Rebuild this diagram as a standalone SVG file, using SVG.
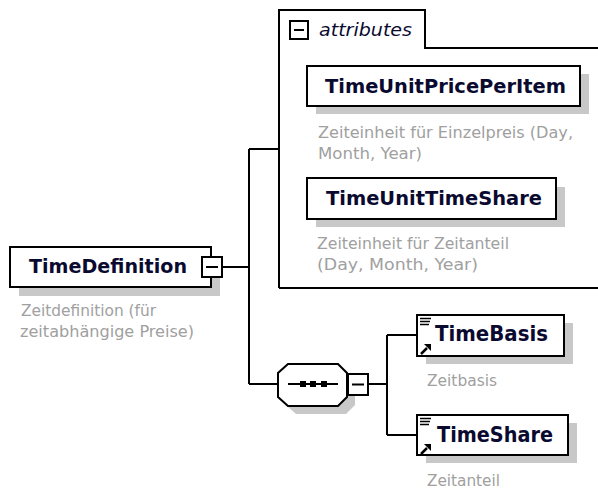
<svg xmlns="http://www.w3.org/2000/svg" width="598" height="491" viewBox="0 0 598 491">
  <style>
    .box{fill:#fff;stroke:#000;stroke-width:2}
    .shadow{fill:#c8c8c8}
    .name{font-family:"DejaVu Sans",Verdana,sans-serif;font-weight:bold;font-size:20px;fill:#0a0a30}
    .desc{font-family:"DejaVu Sans",Verdana,sans-serif;font-size:16px;fill:#a0a0a0}
    .conn{stroke:#000;stroke-width:2;fill:none}
    .ico{stroke:#000;stroke-width:1.5;fill:none}
    .attr{font-family:"DejaVu Sans",Verdana,sans-serif;font-style:italic;font-size:18px;fill:#0a0a30}
  </style>
  <defs>
    <g id="refIcon">
      <path class="ico" d="M0,0.5H11M0,3.5H10M0,6.5H9"/>
      <path d="M1,36 L7,30" stroke="#000" stroke-width="2.5"/>
      <polygon points="11,26 11,33 4,26" fill="#000"/>
    </g>
  </defs>
  <rect width="598" height="491" fill="#fff"/>

  <g id="connectors">
    <path class="conn" d="M222,267H249M249,149V384M249,149H279M249,384H278"/>
    <path class="conn" d="M368,384H387M387,335V435M387,335H417M387,435H417"/>
  </g>

  <g id="attributes">
    <path class="conn" d="M279,288V10H425V48H600M279,288H600"/>
    <rect class="box" x="290" y="21" width="18" height="18"/>
    <path class="conn" d="M294,30H304"/>
    <text class="attr" x="319" y="36" textLength="93" lengthAdjust="spacingAndGlyphs">attributes</text>
  </g>

  <g id="TimeDefinition">
    <rect class="shadow" x="19" y="256" width="201" height="40"/>
    <rect class="box" x="10" y="247" width="201" height="40"/>
    <text class="name" x="29" y="273" textLength="158" lengthAdjust="spacingAndGlyphs">TimeDefinition</text>
    <rect class="box" x="202" y="257" width="20" height="20"/>
    <path class="conn" d="M206,267H218"/>
    <text class="desc" x="21" y="316" textLength="135" lengthAdjust="spacingAndGlyphs">Zeitdefinition (für</text>
    <text class="desc" x="20" y="337" textLength="174" lengthAdjust="spacingAndGlyphs">zeitabhängige Preise)</text>
  </g>

  <g id="TimeUnitPricePerItem">
    <rect class="shadow" x="316" y="74" width="273" height="40"/>
    <rect class="box" x="307" y="66" width="273" height="40"/>
    <text class="name" x="325" y="93" textLength="241" lengthAdjust="spacingAndGlyphs">TimeUnitPricePerItem</text>
    <text class="desc" x="318" y="138" textLength="255" lengthAdjust="spacingAndGlyphs">Zeiteinheit für Einzelpreis (Day,</text>
    <text class="desc" x="318" y="159" textLength="104" lengthAdjust="spacingAndGlyphs">Month, Year)</text>
  </g>

  <g id="TimeUnitTimeShare">
    <rect class="shadow" x="316" y="187" width="249" height="40"/>
    <rect class="box" x="307" y="178" width="249" height="41"/>
    <text class="name" x="326" y="205" textLength="216" lengthAdjust="spacingAndGlyphs">TimeUnitTimeShare</text>
    <text class="desc" x="317" y="249" textLength="192" lengthAdjust="spacingAndGlyphs">Zeiteinheit für Zeitanteil</text>
    <text class="desc" x="317" y="270" textLength="161" lengthAdjust="spacingAndGlyphs">(Day, Month, Year)</text>
  </g>

  <g id="sequence">
    <polygon class="shadow" points="296,372 346,372 355,381 355,405 346,414 296,414 286,405 286,381"/>
    <polygon class="box" points="288,364 338,364 347,373 347,397 338,406 288,406 278,397 278,373"/>
    <path class="conn" d="M288,384H338"/>
    <rect x="300" y="381" width="6" height="6" fill="#000"/>
    <rect x="310" y="381" width="6" height="6" fill="#000"/>
    <rect x="321" y="381" width="6" height="6" fill="#000"/>
    <rect class="box" x="348" y="374" width="20" height="21"/>
    <path class="conn" d="M352,384.5H364"/>
  </g>

  <g id="TimeBasis">
    <rect class="shadow" x="426" y="323" width="147" height="41"/>
    <rect class="box" x="417" y="315" width="147" height="41"/>
    <use href="#refIcon" x="420" y="318"/>
    <text class="name" style="font-size:21px" x="435" y="341" textLength="113" lengthAdjust="spacingAndGlyphs">TimeBasis</text>
    <text class="desc" x="427" y="386" textLength="70" lengthAdjust="spacingAndGlyphs">Zeitbasis</text>
  </g>

  <g id="TimeShare">
    <rect class="shadow" x="426" y="423" width="151" height="40"/>
    <rect class="box" x="417" y="415" width="151" height="40"/>
    <use href="#refIcon" x="420" y="418"/>
    <text class="name" style="font-size:21px" x="437" y="442" textLength="116" lengthAdjust="spacingAndGlyphs">TimeShare</text>
    <text class="desc" x="427" y="486" textLength="73" lengthAdjust="spacingAndGlyphs">Zeitanteil</text>
  </g>
</svg>
